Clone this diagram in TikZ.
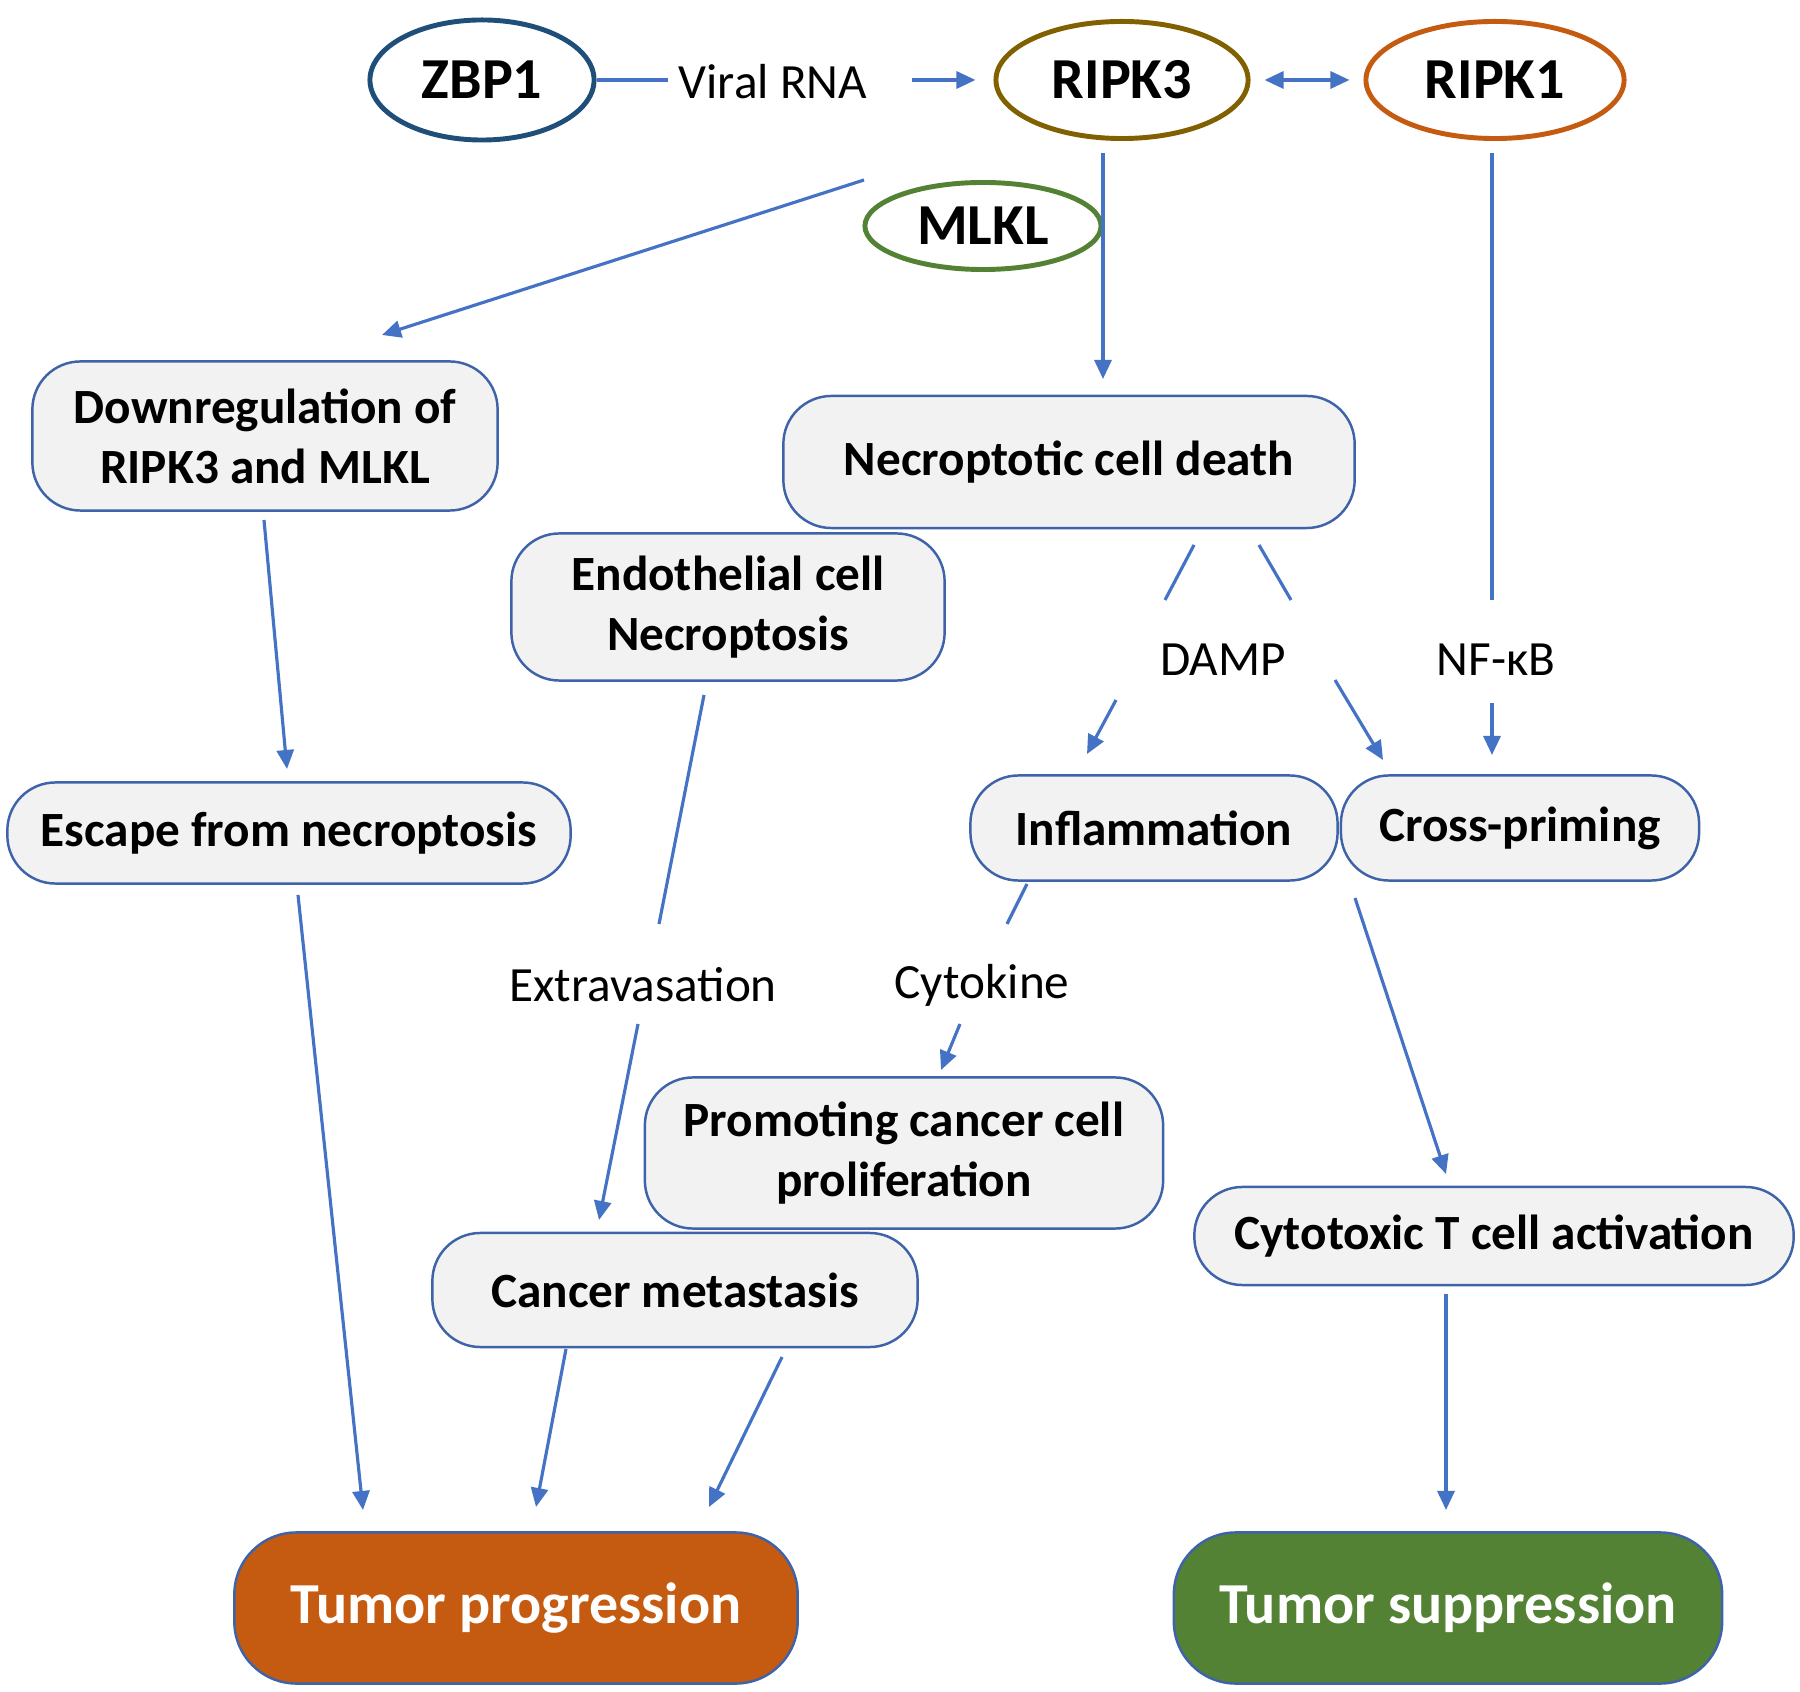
\documentclass[tikz,border=0pt]{standalone}
\usepackage{fontspec}
\setmainfont{Carlito}
\usetikzlibrary{shapes.geometric,arrows.meta}

\definecolor{zbpcol}{HTML}{1F4E79}
\definecolor{ripkthreecol}{HTML}{806000}
\definecolor{ripkonecol}{HTML}{C55A11}
\definecolor{mlklcol}{HTML}{548235}
\definecolor{linkblue}{HTML}{4472C4}
\definecolor{boxline}{HTML}{3F63A8}
\definecolor{boxfill}{HTML}{F2F2F2}
\definecolor{progfill}{HTML}{C55A11}
\definecolor{suppfill}{HTML}{548235}

\tikzset{
	prot/.style={ellipse, line width=1.4pt, inner sep=0pt,
		font=\bfseries\fontsize{16.5}{19}\selectfont},
	box/.style={rectangle, rounded corners=0.48cm, draw=boxline, fill=boxfill,
		line width=0.7pt, inner sep=0pt, align=center,
		font=\bfseries\fontsize{14}{17}\selectfont},
	outcome/.style={box, rounded corners=0.62cm, text=white,
		font=\bfseries\fontsize{16.5}{19}\selectfont},
	lbl/.style={inner sep=0.1cm, font=\fontsize{14}{17}\selectfont},
	link/.style={draw=linkblue, line width=0.9pt},
	arr/.style={link, -{Triangle[length=0.19cm,width=0.17cm]}},
	darr/.style={link, {Triangle[length=0.19cm,width=0.17cm]}-{Triangle[length=0.19cm,width=0.17cm]}}
}

\begin{document}
\begin{tikzpicture}[x=0.01cm,y=-0.01cm]
		\useasboundingbox (0,0) rectangle (1800,1692);
		% proteins
		\node[prot, draw=zbpcol, minimum width=2.24cm, minimum height=1.2cm] (zbp) at (482,80) {ZBP1};
		\node[prot, draw=ripkthreecol, minimum width=2.52cm, minimum height=1.17cm] (ripk3) at (1122,80) {RIPK3};
		\node[prot, draw=ripkonecol, minimum width=2.58cm, minimum height=1.17cm] (ripk1) at (1495,80) {RIPK1};
		\node[prot, draw=mlklcol, minimum width=2.36cm, minimum height=0.87cm] (mlkl) at (983,226) {MLKL};
		% boxes
		\node[box, minimum width=4.65cm, minimum height=1.49cm] (down) at (265,436) {Downregulation of\\RIPK3 and MLKL};
		\node[box, minimum width=5.71cm, minimum height=1.32cm] (necro) at (1069,462) {Necroptotic cell death};
		\node[box, minimum width=4.33cm, minimum height=1.47cm] (endo) at (728,607) {Endothelial cell\\Necroptosis};
		\node[box, minimum width=5.63cm, minimum height=1.01cm] (escape) at (289,833) {Escape from necroptosis};
		\node[box, minimum width=3.67cm, minimum height=1.05cm] (infl) at (1154,828) {Inflammation};
		\node[box, minimum width=3.58cm, minimum height=1.05cm] (cross) at (1520,828) {Cross-priming};
		\node[box, minimum width=5.18cm, minimum height=1.51cm] (prolif) at (904,1153) {Promoting cancer cell\\proliferation};
		\node[box, minimum width=4.85cm, minimum height=1.14cm] (meta) at (675,1290) {Cancer metastasis};
		\node[box, minimum width=5.99cm, minimum height=0.98cm] (ctl) at (1494,1236) {Cytotoxic T cell activation};
		\node[outcome, fill=progfill, minimum width=5.63cm, minimum height=1.51cm] (prog) at (516,1608) {Tumor progression};
		\node[outcome, fill=suppfill, minimum width=5.48cm, minimum height=1.51cm] (supp) at (1448,1608) {Tumor suppression};
		% labels
		\node[lbl] (viral) at (773,82) {Viral RNA};
		\node[lbl] (damp) at (1223,660) {DAMP};
		\node[lbl] (nfkb) at (1496,660) {NF-κB};
		\node[lbl] (extra) at (643,985) {Extravasation};
		\node[lbl] (cyto) at (982,985) {Cytokine};
		% free ends
		\coordinate (mlklfoot) at (864,180);
		\coordinate (downtop) at (382,335);
		\coordinate (rthreefoot) at (1103,153);
		\coordinate (necrotop) at (1103,379);
		\coordinate (ronefoot) at (1492,153);
		\coordinate (nfkbtop) at (1492,600);
		\coordinate (nfkbfoot) at (1492,703);
		\coordinate (crosstop) at (1492,755);
		\coordinate (necroleft) at (1194,545);
		\coordinate (dampleft) at (1165,600);
		\coordinate (necroright) at (1259,545);
		\coordinate (dampright) at (1291,600);
		\coordinate (damplow) at (1116,700);
		\coordinate (infltop) at (1087,754);
		\coordinate (dampside) at (1335,680);
		\coordinate (crossleft) at (1383,760);
		\coordinate (downfoot) at (264,520);
		\coordinate (escapetop) at (287,769);
		\coordinate (escapefoot) at (298,895);
		\coordinate (progleft) at (363,1510);
		\coordinate (endofoot) at (704,695);
		\coordinate (extratop) at (659,924);
		\coordinate (extrafoot) at (638,1024);
		\coordinate (metatop) at (599,1220);
		\coordinate (inflfoot) at (1027,884);
		\coordinate (cytotop) at (1007,924);
		\coordinate (cytofoot) at (960,1024);
		\coordinate (proliftop) at (941,1070);
		\coordinate (crossfoot) at (1355,898);
		\coordinate (ctltop) at (1446,1174);
		\coordinate (ctlfoot) at (1446,1294);
		\coordinate (supptop) at (1446,1510);
		\coordinate (metafoot) at (566,1349);
		\coordinate (progmid) at (536,1507);
		\coordinate (metaright) at (782,1357);
		\coordinate (progright) at (709,1507);
		% connectors
		\draw[link] (zbp.east) -- (zbp.east -| viral.west);
		\draw[arr, shorten <=0.34cm, shorten >=0.18cm] (viral.east |- ripk3.west) -- (ripk3.west);
		\draw[darr, shorten <=0.14cm, shorten >=0.14cm] (ripk3.east) -- (ripk1.west);
		\draw[arr] (mlklfoot) -- (downtop);
		\draw[arr] (rthreefoot) -- (necrotop);
		\draw[link] (ronefoot) -- (nfkbtop);
		\draw[arr] (nfkbfoot) -- (crosstop);
		\draw[link] (necroleft) -- (dampleft);
		\draw[link] (necroright) -- (dampright);
		\draw[arr] (damplow) -- (infltop);
		\draw[arr] (dampside) -- (crossleft);
		\draw[arr] (downfoot) -- (escapetop);
		\draw[arr] (escapefoot) -- (progleft);
		\draw[link] (endofoot) -- (extratop);
		\draw[arr] (extrafoot) -- (metatop);
		\draw[link] (inflfoot) -- (cytotop);
		\draw[arr] (cytofoot) -- (proliftop);
		\draw[arr] (crossfoot) -- (ctltop);
		\draw[arr] (ctlfoot) -- (supptop);
		\draw[arr] (metafoot) -- (progmid);
		\draw[arr] (metaright) -- (progright);
	\end{tikzpicture}
\end{document}
